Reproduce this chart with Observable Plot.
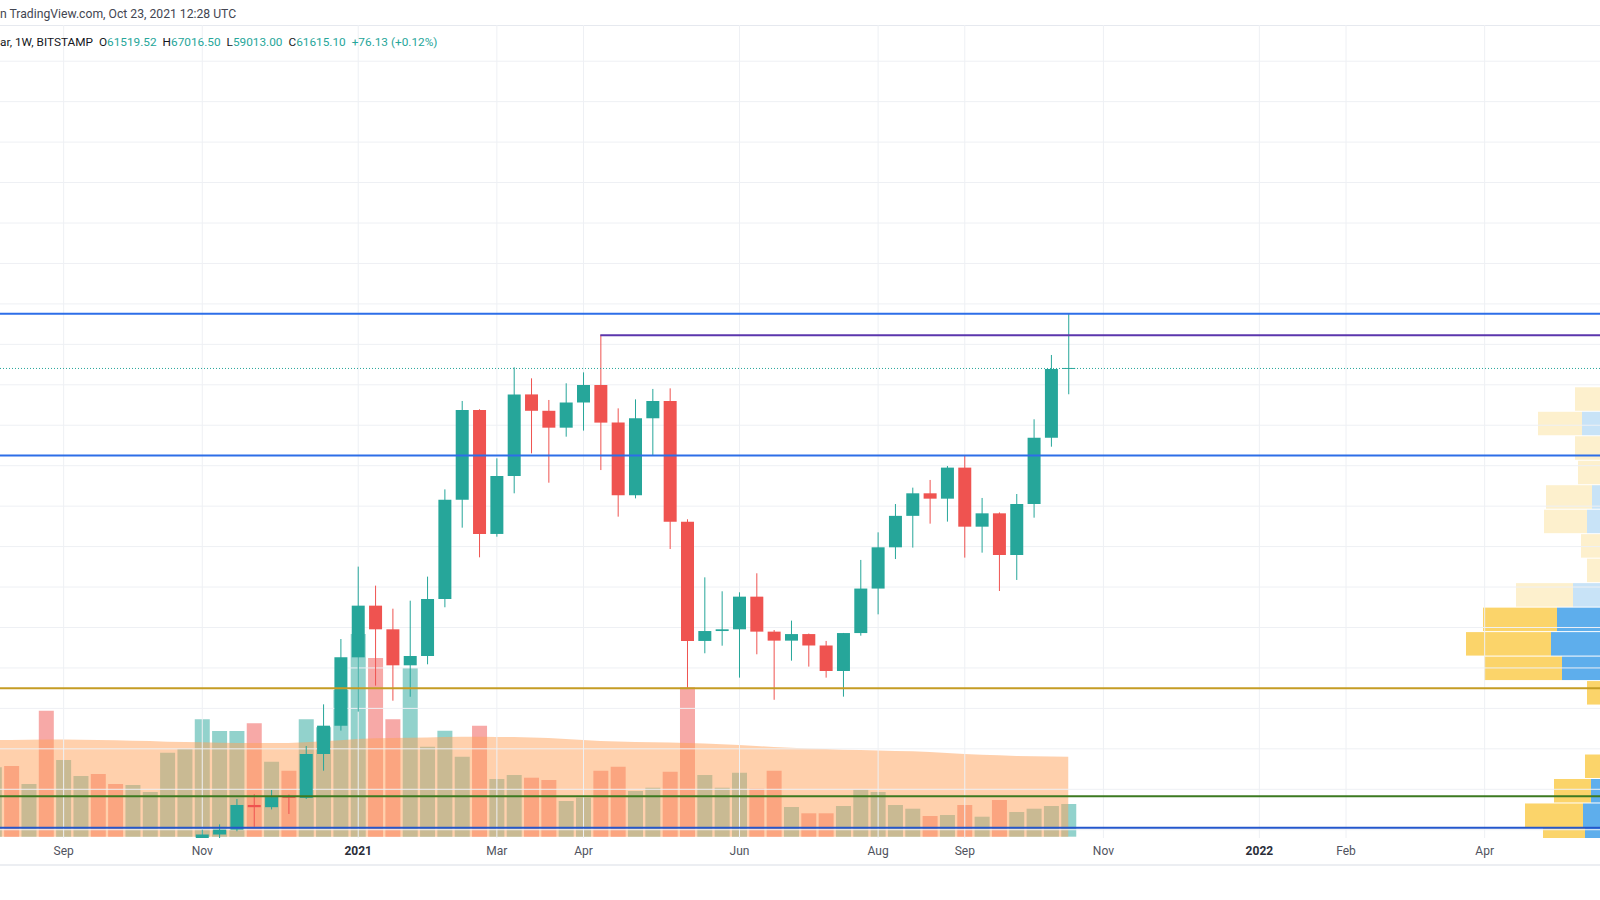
<!DOCTYPE html>
<html><head><meta charset="utf-8">
<script src="https://cdn.jsdelivr.net/npm/d3@7"></script>
<script src="https://cdn.jsdelivr.net/npm/@observablehq/plot@0.6"></script>
<style>
html,body{margin:0;padding:0;background:#fff;}
body{width:1600px;height:900px;overflow:hidden;position:relative;font-family:Roboto,"Open Sans",sans-serif;}
#header{position:absolute;left:0;top:0;height:29px;line-height:29px;font-size:12.2px;color:#434651;white-space:pre;}
#sepTop{position:absolute;left:0;top:25px;width:1600px;height:1px;background:#e6e9ef;}
#chart{position:absolute;left:0;top:25px;width:1600px;height:840px;overflow:hidden;}
.layer{position:absolute;left:0;top:0;width:1600px;height:840px;}
.layer svg{display:block;}
#legend{position:absolute;left:0;top:33px;height:18px;line-height:18px;font-size:11.8px;white-space:pre;color:#131722;}
#legend .v{color:#26a69a;}
#legend .g{display:inline-block;width:6px;}
#sepBottom{position:absolute;left:0;top:864px;width:1600px;height:2px;background:#eceef2;}
</style></head><body>
<div id="header">n TradingView.com, Oct 23, 2021 12:28 UTC</div>
<div id="sepTop"></div>
<div id="chart"><div class="layer" id="vol"></div><div class="layer" id="vp"></div><div class="layer" id="price"></div></div>
<div id="legend">ar, 1W, BITSTAMP<span class="g"></span>O<span class="v">61519.52</span><span class="g"></span>H<span class="v">67016.50</span><span class="g"></span>L<span class="v">59013.00</span><span class="g"></span>C<span class="v">61615.10</span><span class="g"></span><span class="v">+76.13 (+0.12%)</span></div>
<div id="sepBottom"></div>
<script>
// ---------- data ----------
const weekStarts = ["2020-08-10","2020-08-17","2020-08-24","2020-08-31","2020-09-07","2020-09-14","2020-09-21","2020-09-28","2020-10-05","2020-10-12","2020-10-19","2020-10-26","2020-11-02","2020-11-09","2020-11-16","2020-11-23","2020-11-30","2020-12-07","2020-12-14","2020-12-21","2020-12-28","2021-01-04","2021-01-11","2021-01-18","2021-01-25","2021-02-01","2021-02-08","2021-02-15","2021-02-22","2021-03-01","2021-03-08","2021-03-15","2021-03-22","2021-03-29","2021-04-05","2021-04-12","2021-04-19","2021-04-26","2021-05-03","2021-05-10","2021-05-17","2021-05-24","2021-05-31","2021-06-07","2021-06-14","2021-06-21","2021-06-28","2021-07-05","2021-07-12","2021-07-19","2021-07-26","2021-08-02","2021-08-09","2021-08-16","2021-08-23","2021-08-30","2021-09-06","2021-09-13","2021-09-20","2021-09-27","2021-10-04","2021-10-11","2021-10-18"];
const opens = [11680,11850,11650,11680,10250,10330,10930,10780,10670,11390,11500,13030,13780,15480,15960,18400,18180,19180,19100,23440,26240,33000,38110,35770,32210,33130,38770,48580,57460,45200,50930,59000,57380,55710,58200,59930,56210,49030,56640,58350,46400,34620,35600,35770,39000,35540,34650,35300,34170,31650,35400,39800,43880,46990,49220,48690,51760,45920,47240,43120,48160,54720,61519.52];
const highs = [12090,12480,11800,12090,10650,11170,10990,10950,11490,11730,13350,14080,15960,16480,18990,19460,19880,19430,24230,28350,34810,41970,40090,37810,38600,40980,49610,58350,57530,52680,61680,60590,58450,60100,61180,64895,57620,58510,59540,59600,46650,40910,39530,39430,41310,35700,36630,35350,34620,35410,42630,45360,48160,49780,50540,51920,52910,48760,47330,49150,56540,62900,67016.5];
const lows = [11100,11350,11120,9830,9850,10210,10130,10380,10520,11200,11410,12960,13290,14830,15800,16240,17960,17510,18990,21790,25750,27630,30200,28710,29100,32310,37950,45820,42890,44930,49220,53170,50270,54820,55420,51520,46910,48720,53010,43710,30000,33400,34150,30990,33300,28800,32670,32080,30990,29110,35140,37250,42720,43850,46220,46420,42860,43350,39560,40650,46810,53830,59013];
const closes = [11850,11650,11680,10250,10330,10930,10780,10670,11390,11500,13030,13780,15480,15960,18400,18180,19180,19100,23440,26240,33000,38110,35770,32210,33130,38770,48580,57460,45200,50930,59000,57380,55710,58200,59930,56210,49030,56640,58350,46400,34620,35600,35770,39000,35540,34650,35300,34170,31650,35400,39800,43880,46990,49220,48690,51760,45920,47240,43120,48160,54720,61519.52,61615.10];
const volumes = [34700,35350,26350,63000,38350,30350,31350,26350,25850,22350,42000,43850,58700,52850,52850,56700,37500,33000,58700,54700,73350,101350,89350,58700,84350,45000,53000,40000,55500,28850,30850,29500,28350,17850,19500,33000,35000,22850,24500,32500,74700,30850,24500,32000,24000,33000,14850,11700,11700,15350,23500,22350,15850,14000,10350,10850,15850,10000,18350,12350,14000,15350,16350];
const volumeMA = [48300,48400,48500,48600,48600,48500,48400,48200,48000,47800,47500,47300,47200,47000,46900,46900,46800,46900,47200,47700,48200,48800,49200,49400,49500,49600,49800,50000,50000,49900,49800,49600,49300,48800,48300,47900,47600,47400,47200,47100,46900,46600,46200,45800,45300,44900,44500,44100,43800,43500,43300,43100,42900,42700,42300,41900,41400,41000,40700,40400,40200,40100,40000];

// volume profile (visible range), rows from the top price down
const vpRowTop = [67016.5,64595.5,62174.5,59753.5,57332.5,54911.5,52490.5,50069.5,47648.5,45227.5,42806.5,40385.5,37964.5,35543.5,33122.5,30701.5,28280.5,25859.5,23438.5,21017.5,18596.5,16175.5,13754.5];
const vpUp   = [5,15,25,38,58,38,36,48,53,36,34,67,83,89,78,35,20,22,34,49,57,55];
const vpDown = [4,10,12,27,44,27,26,46,43,23,19,57,74,85,78,18,15,16,21,37,58,42];
const vpValueArea = [false,false,false,false,false,false,false,false,false,false,false,false,true,true,true,true,true,true,true,true,true,true];

// drawn levels
const levelPrices = [67016.5, 53000, 30000, 19300, 16200];
const levelColors = ["#2d6ee8", "#2d6ee8", "#c59c24", "#3c7a21", "#2457cc"];
const athPrice = 64895;
const athStart = "2021-04-12";
const lastClose = 61615.10;

// axes
const priceGridTicks = [16000,20000,24000,28000,32000,36000,40000,44000,48000,52000,56000,60000,64000,68000,72000,76000,80000,84000,88000,92000];
const axisTickDates = ["2020-09-07","2020-11-02","2021-01-04","2021-03-01","2021-04-05","2021-06-07","2021-08-02","2021-09-06","2021-11-01","2022-01-03","2022-02-07","2022-04-04"];
const axisTickLabels = ["Sep","Nov","2021","Mar","Apr","Jun","Aug","Sep","Nov","2022","Feb","Apr"];

// ---------- build ----------
const UP = "#26a69a", DOWN = "#ef5350";
const W = 1600, H = 840, MB = 27;
const d = s => new Date(s + "T00:00:00Z");
const xEnd = new Date("2022-05-20T19:00:00Z");
const xScale = {type: "utc", domain: [new Date("2020-08-12T12:00:00Z"), xEnd], range: [0, W], axis: null};
const priceDomain = [15133, 95531];
const candles = weekStarts.map((w, i) => ({
  date: d(w), open: opens[i], high: highs[i], low: lows[i], close: closes[i],
  volume: volumes[i], ma: volumeMA[i], color: closes[i] >= opens[i] ? UP : DOWN
}));
const tickDates = axisTickDates.map(d);
const labelOf = new Map(tickDates.map((t, i) => [+t, axisTickLabels[i]]));
const yearTicks = tickDates.filter(t => /^\d{4}$/.test(labelOf.get(+t)));
const monthTicks = tickDates.filter(t => !/^\d{4}$/.test(labelOf.get(+t)));
const common = {width: W, height: H, marginLeft: 0, marginRight: 0, marginTop: 0, marginBottom: MB,
  style: {background: "transparent", fontFamily: "Roboto, sans-serif"}, color: {type: "identity"}};

// volume layer
const volPlot = Plot.plot({...common,
  x: xScale,
  y: {domain: [0, 405850], range: [H - MB - 1.3, 0], axis: null},
  marks: [
    Plot.ruleX(candles, {x: "date", y1: 0, y2: "volume", stroke: "color", strokeOpacity: 0.5, strokeWidth: 15}),
    Plot.areaY(candles, {x: "date", y: "ma", fill: "#ffa15a", fillOpacity: 0.5, curve: "linear"})
  ]
});
document.getElementById("vol").appendChild(volPlot);

// volume profile layer
const vpRows = vpUp.map((u, i) => ({top: vpRowTop[i], bottom: vpRowTop[i + 1], up: u, down: vpDown[i], va: vpValueArea[i]}));
const vpPlot = Plot.plot({...common,
  x: {domain: [0, 200], range: [1640, 1440], axis: null},
  y: {domain: priceDomain, axis: null},
  marks: [
    Plot.rect(vpRows, {x1: 0, x2: "up", y1: "bottom", y2: "top", fill: r => r.va ? "#5eaeec" : "#c8e3f7", insetTop: 0.5, insetBottom: 0.5, clip: true}),
    Plot.rect(vpRows, {x1: "up", x2: r => r.up + r.down, y1: "bottom", y2: "top", fill: r => r.va ? "#fbd46a" : "#fdf0cd", insetTop: 0.5, insetBottom: 0.5, clip: true})
  ]
});
document.getElementById("vp").appendChild(vpPlot);

// price layer
const pricePlot = Plot.plot({...common,
  x: xScale,
  y: {domain: priceDomain, axis: null},
  marks: [
    Plot.gridX(tickDates, {stroke: "#eef0f4", strokeOpacity: 1}),
    Plot.gridY(priceGridTicks, {stroke: "#eef0f4", strokeOpacity: 1}),
    Plot.ruleX(candles, {x: "date", y1: "low", y2: "high", stroke: "color", strokeWidth: 1, clip: true}),
    Plot.ruleX(candles, {x: "date", y1: "open", y2: "close", stroke: "color", strokeWidth: 13, clip: true}),
    Plot.ruleY([lastClose], {stroke: UP, strokeWidth: 1, strokeDasharray: "1,2"}),
    Plot.ruleY([athPrice], {x1: d(athStart), x2: xEnd, stroke: "#5b36ad", strokeWidth: 2}),
    ...levelPrices.map((p, i) => Plot.ruleY([p], {stroke: levelColors[i], strokeWidth: 2})),
    Plot.axisX(monthTicks, {tickFormat: t => labelOf.get(+t), tickSize: 0, tickPadding: 8, fontSize: 12, fill: "#50535e", label: null}),
    Plot.axisX(yearTicks, {tickFormat: t => labelOf.get(+t), tickSize: 0, tickPadding: 8, fontSize: 12, fontWeight: "bold", fill: "#2a2e39", label: null})
  ]
});
document.getElementById("price").appendChild(pricePlot);
</script>
</body></html>
